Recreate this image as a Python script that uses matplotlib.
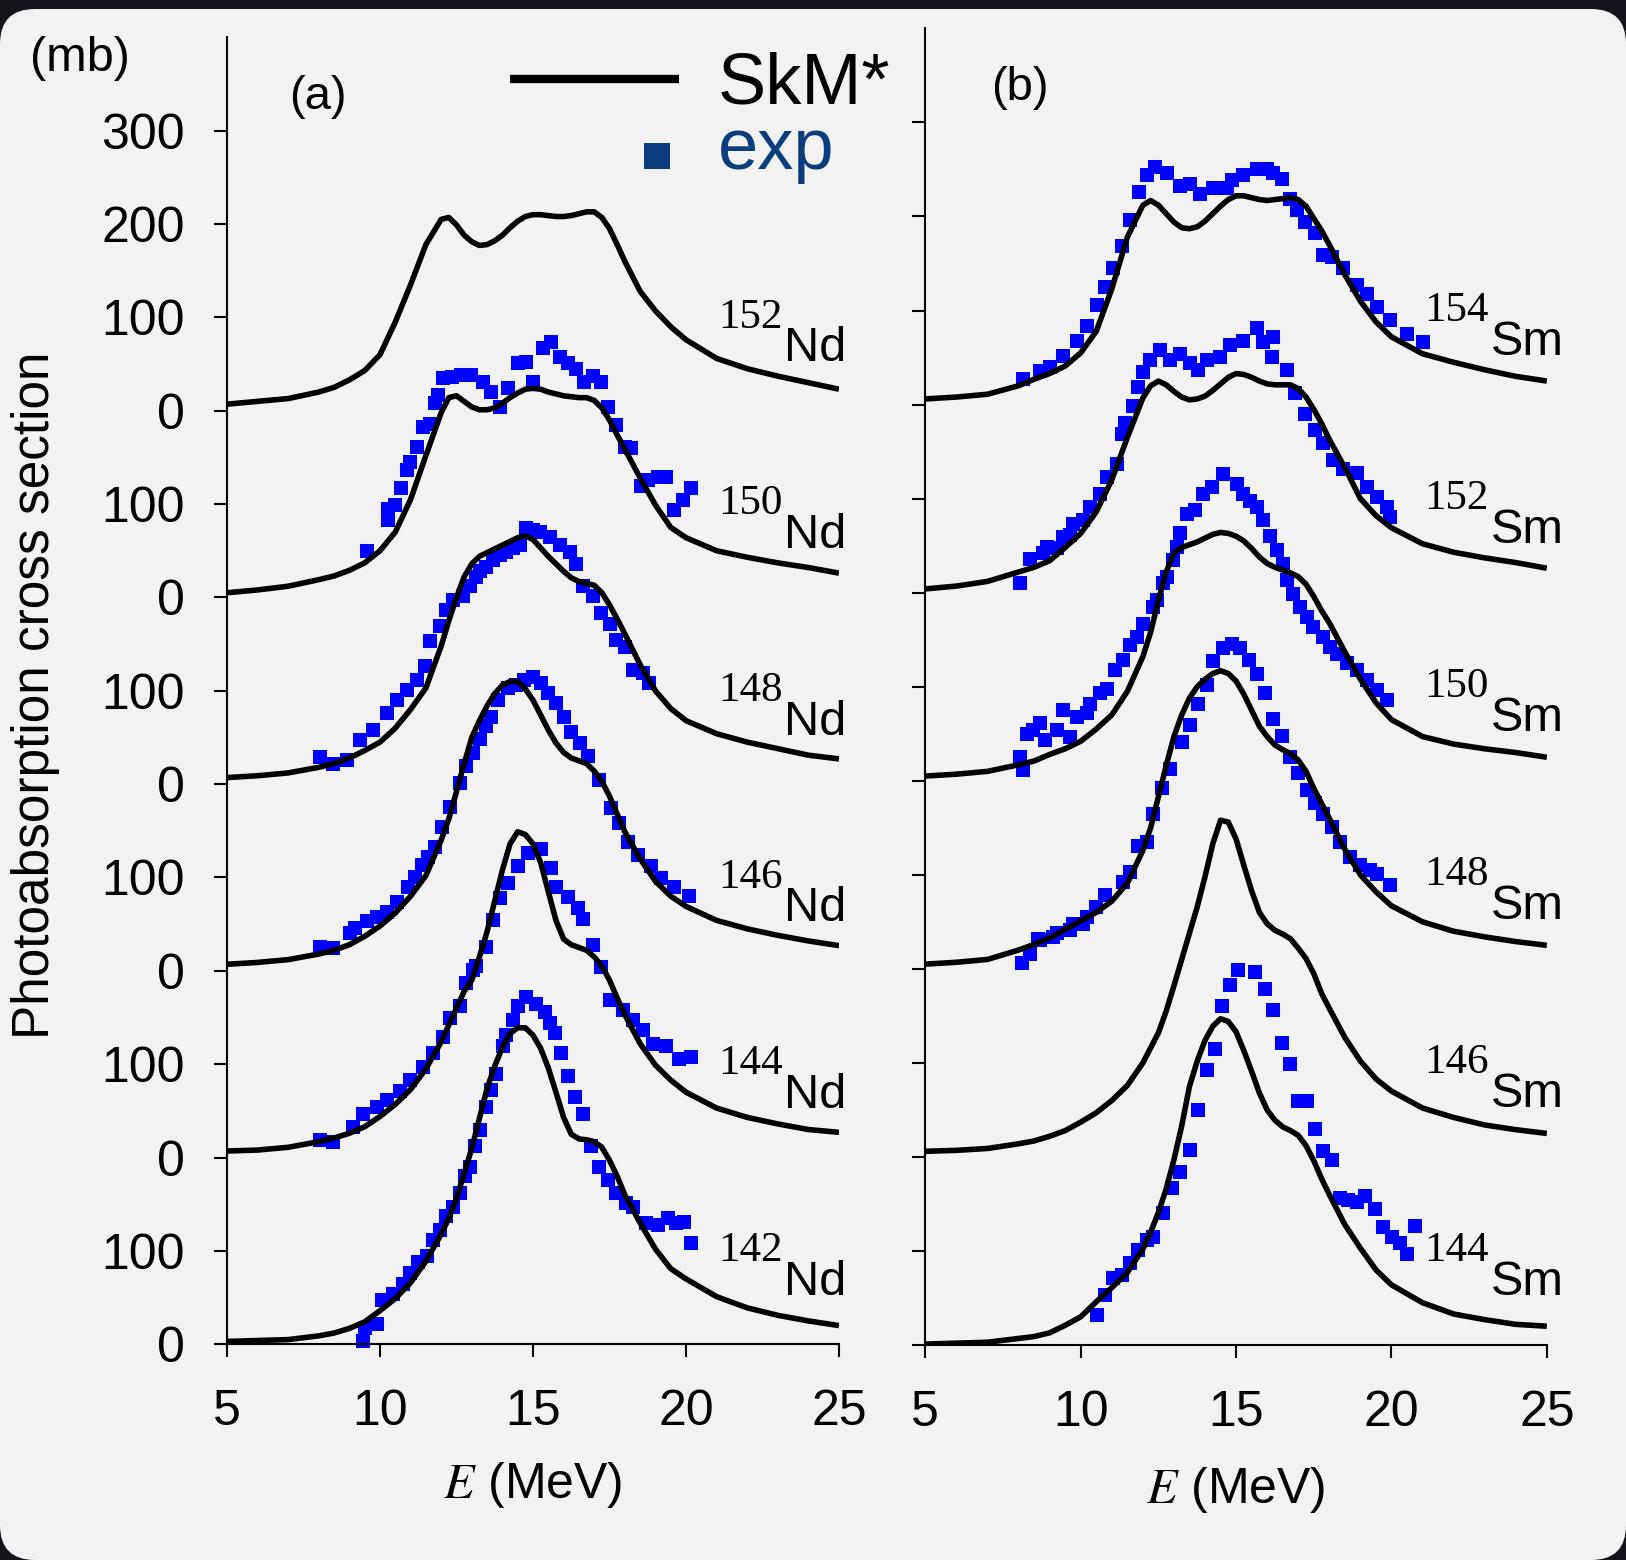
import numpy as np
import matplotlib.pyplot as plt
from matplotlib.patches import FancyBboxPatch

plt.rcParams['font.family'] = ['Liberation Sans', 'DejaVu Sans']
plt.rcParams['mathtext.fontset'] = 'stix'

# energy grid of the SkM* curves (MeV)
e_th = [5, 6, 7, 8, 8.5, 9, 9.5, 10, 10.5, 11, 11.5, 12,
        12.25, 12.5, 12.75, 13, 13.25, 13.5, 13.75, 14, 14.25, 14.5, 14.75, 15,
        15.25, 15.5, 15.75, 16, 16.25, 16.5, 16.75, 17, 17.25, 17.5, 17.75, 18,
        18.5, 19, 19.5, 20, 21, 22, 23, 24, 25]

# SkM* cross sections (mb), each one measured from its own zero line
nd142_th = [3, 4, 5, 9, 12, 17, 24, 36, 49, 66, 89, 118,
            135, 156, 183, 210, 242, 274, 298, 318, 333, 339, 339, 331,
            317, 296, 270, 243, 225, 220, 219, 217, 211, 197, 180, 160,
            130, 102, 81, 70, 51, 39, 31, 25, 20]
nd144_th = [7, 8, 11, 17, 21, 26, 33, 44, 57, 73, 95, 124,
            142, 160, 178, 190, 215, 242, 275, 308, 336, 349, 346, 336,
            316, 285, 254, 234, 228, 225, 222, 215, 205, 190, 171, 153,
            122, 99, 83, 70, 53, 43, 36, 30, 27]
nd146_th = [7, 9, 12, 18, 22, 28, 37, 48, 62, 80, 102, 140,
            163, 192, 222, 250, 268, 284, 297, 306, 310, 310, 302, 290,
            274, 258, 244, 234, 228, 225, 222, 214, 203, 187, 168, 149,
            120, 96, 80, 69, 54, 45, 38, 32, 27]
nd148_th = [7, 9, 12, 18, 22, 28, 36, 45, 60, 80, 103, 148,
            175, 200, 222, 236, 244, 248, 252, 256, 260, 264, 266, 262,
            253, 244, 236, 228, 221, 217, 215, 213, 205, 192, 177, 161,
            128, 100, 81, 68, 54, 45, 38, 31, 27]
nd150_th = [5, 8, 12, 19, 23, 29, 37, 50, 70, 105, 152, 198,
            214, 216, 210, 204, 201, 201, 203, 208, 214, 219, 223, 224,
            223, 220, 218, 216, 215, 214, 214, 211, 203, 190, 174, 159,
            128, 99, 75, 64, 50, 43, 37, 32, 26]
nd152_th = [7, 10, 13, 20, 25, 33, 43, 60, 95, 135, 178, 205,
            207, 199, 188, 181, 177, 178, 182, 188, 196, 203, 208, 210,
            210, 209, 208, 208, 209, 211, 213, 213, 207, 195, 178, 160,
            128, 107, 90, 76, 56, 45, 37, 30, 23]

sm144_th = [1, 2, 3, 7, 9, 13, 21, 30, 46, 61, 77, 102,
            120, 141, 166, 197, 233, 275, 302, 324, 339, 347, 344, 333,
            313, 291, 268, 250, 239, 232, 228, 223, 212, 196, 177, 160,
            128, 103, 80, 64, 45, 33, 27, 22, 20]
sm146_th = [6, 7, 9, 14, 17, 22, 28, 37, 47, 60, 76, 100,
            116, 132, 155, 182, 210, 238, 266, 298, 333, 358, 356, 338,
            310, 283, 260, 248, 241, 237, 232, 222, 211, 195, 174, 158,
            127, 102, 83, 70, 52, 42, 34, 29, 25]
sm148_th = [5, 7, 10, 20, 26, 33, 42, 51, 60, 72, 91, 126,
            150, 183, 216, 247, 270, 288, 300, 308, 314, 317, 314, 306,
            292, 275, 258, 247, 238, 233, 229, 222, 210, 192, 176, 160,
            127, 100, 82, 67, 50, 40, 34, 29, 25]
sm150_th = [5, 7, 10, 17, 21, 28, 34, 42, 55, 70, 95, 132,
            158, 192, 222, 242, 248, 251, 254, 258, 262, 264, 263, 260,
            255, 247, 238, 231, 227, 224, 221, 217, 209, 196, 181, 168,
            137, 108, 83, 65, 47, 39, 34, 30, 25]
sm152_th = [4, 7, 12, 22, 27, 34, 48, 63, 86, 120, 165, 207,
            220, 225, 221, 214, 208, 205, 206, 209, 215, 222, 229, 233,
            232, 229, 225, 222, 221, 221, 221, 217, 208, 195, 180, 163,
            133, 100, 82, 69, 52, 43, 37, 32, 26]
sm154_th = [6, 8, 11, 20, 27, 33, 41, 55, 78, 123, 178, 212,
            217, 212, 203, 194, 188, 187, 189, 195, 203, 211, 218, 222,
            222, 220, 218, 217, 218, 219, 220, 218, 211, 198, 185, 170,
            138, 110, 88, 72, 54, 45, 37, 30, 25]

# experimental points: energy (MeV) and cross section (mb)
nd142_exp_e = [9.45, 9.51, 9.89, 10.05, 10.43, 10.76, 10.98, 11.25, 11.52, 11.74,
               11.96, 12.17, 12.39, 12.61, 12.77, 12.93, 13.1, 13.26, 13.48, 13.64,
               13.8, 14.02, 14.13, 14.35, 14.51, 14.78, 15.11, 15.38, 15.54, 15.71,
               15.92, 16.14, 16.36, 16.63, 16.9, 17.17, 17.44, 17.72, 18.04, 18.26,
               18.7, 19.07, 19.4, 19.67, 19.95, 20.16]
nd142_exp = [4, 17, 22, 47, 54, 65, 76, 88, 94, 112,
             122, 137, 147, 162, 180, 190, 212, 229, 254, 272,
             290, 319, 331, 347, 362, 372, 365, 356, 344, 333,
             312, 287, 265, 247, 212, 190, 176, 162, 151, 147,
             130, 128, 135, 130, 131, 108]

nd144_exp_e = [8.04, 8.48, 9.13, 9.45, 9.89, 10.22, 10.65, 10.98, 11.41, 11.74,
               12.06, 12.28, 12.61, 12.82, 13.04, 13.15, 13.48, 13.7, 13.91, 14.18,
               14.51, 14.84, 15.27, 15.6, 15.76, 16.14, 16.47, 16.63, 16.96, 17.23,
               17.5, 17.93, 18.26, 18.59, 18.91, 19.35, 19.78, 20.16]
nd144_exp = [19, 17, 33, 47, 54, 62, 71, 83, 97, 112,
             129, 149, 162, 187, 201, 205, 226, 254, 278, 294,
             312, 326, 330, 310, 290, 279, 267, 256, 228, 204,
             169, 158, 147, 137, 122, 119, 106, 108]

nd146_exp_e = [8.04, 8.48, 9.02, 9.18, 9.56, 9.9, 10.22, 10.54, 10.92, 11.15,
               11.36, 11.57, 11.79, 12.01, 12.28, 12.61, 12.82, 13.04, 13.26, 13.48,
               13.64, 13.86, 14.18, 14.46, 14.72, 15.0, 15.27, 15.5, 15.76, 16.0,
               16.25, 16.52, 16.79, 17.17, 17.55, 17.82, 18.09, 18.42, 18.86, 19.18,
               19.62, 20.11]
nd146_exp = [26, 24, 40, 46, 53, 58, 63, 74, 90, 100,
             113, 122, 133, 154, 176, 201, 219, 233, 248, 262,
             272, 290, 303, 306, 311, 315, 308, 298, 287, 272,
             256, 244, 230, 204, 174, 158, 138, 124, 112, 99,
             90, 80]

nd148_exp_e = [8.04, 8.48, 8.91, 9.35, 9.78, 10.22, 10.54, 10.87, 11.2, 11.47,
               11.63, 11.96, 12.17, 12.39, 12.72, 12.93, 13.15, 13.26, 13.48, 13.69,
               13.91, 14.13, 14.35, 14.56, 14.78, 15.0, 15.22, 15.54, 15.87, 16.2,
               16.41, 16.63, 16.96, 17.23, 17.5, 17.72, 17.99, 18.26, 18.59, 18.8]
nd148_exp = [29, 22, 26, 47, 58, 76, 90, 101, 112, 126,
             153, 169, 187, 197, 201, 212, 222, 228, 233, 240,
             245, 249, 253, 256, 274, 272, 270, 265, 256, 249,
             236, 212, 201, 183, 171, 154, 147, 122, 119, 108]

nd150_exp_e = [9.56, 10.27, 10.27, 10.49, 10.7, 10.87, 10.98, 11.2, 11.41, 11.63,
               11.79, 11.9, 12.06, 12.34, 12.66, 12.99, 13.37, 13.64, 13.91, 14.18,
               14.51, 14.78, 15.0, 15.32, 15.6, 15.87, 16.14, 16.41, 16.68, 16.96,
               17.23, 17.44, 17.72, 17.99, 18.2, 18.53, 18.75, 19.07, 19.35, 19.62,
               19.89, 20.16]
nd150_exp = [50, 83, 95, 99, 117, 136, 145, 161, 183, 186,
             208, 217, 235, 236, 238, 238, 231, 220, 204, 224,
             251, 252, 231, 267, 274, 258, 251, 245, 231, 237,
             231, 204, 185, 161, 160, 119, 126, 129, 129, 94,
             104, 117]

sm144_exp_e = [10.51, 10.78, 11.05, 11.32, 11.59, 11.85, 12.12, 12.34, 12.66, 12.93,
               13.2, 13.52, 13.79, 14.05, 14.32, 14.54, 14.81, 15.07, 15.61, 15.93,
               16.2, 16.47, 16.74, 17.0, 17.27, 17.54, 17.81, 18.08, 18.35, 18.61,
               18.88, 19.15, 19.47, 19.74, 20.01, 20.28, 20.49, 20.76]
sm144_exp = [32, 53, 71, 74, 87, 101, 112, 115, 140, 167,
             184, 207, 250, 292, 315, 360, 383, 399, 397, 379,
             356, 321, 299, 260, 260, 230, 206, 197, 156, 154,
             152, 158, 145, 126, 115, 108, 97, 127]

sm148_exp_e = [8.1, 8.37, 8.64, 8.69, 9.12, 9.23, 9.66, 9.76, 10.08, 10.19,
               10.5, 10.78, 11.37, 11.59, 11.85, 12.12, 12.34, 12.61, 12.87, 13.25,
               13.52, 13.79, 14.05, 14.27, 14.59, 14.86, 15.13, 15.4, 15.66, 15.93,
               16.2, 16.47, 16.74, 17.0, 17.27, 17.54, 17.81, 18.08, 18.35, 18.67,
               18.99, 19.31, 19.53, 19.96]
sm148_exp = [6, 16, 32, 31, 34, 38, 41, 48, 48, 55,
             66, 78, 92, 103, 131, 135, 165, 192, 213, 241,
             259, 282, 302, 327, 341, 345, 341, 328, 314, 293,
             266, 248, 225, 208, 190, 176, 165, 151, 135, 119,
             110, 105, 101, 89]

sm150_exp_e = [8.05, 8.15, 8.26, 8.48, 8.69, 8.85, 9.23, 9.44, 9.66, 9.87,
               10.19, 10.3, 10.62, 10.84, 11.1, 11.37, 11.59, 11.8, 12.02, 12.34,
               12.45, 12.66, 12.77, 12.98, 13.09, 13.2, 13.41, 13.68, 13.95, 14.21,
               14.59, 15.02, 15.23, 15.45, 15.66, 15.88, 16.09, 16.31, 16.52, 16.63,
               16.84, 17.06, 17.27, 17.49, 17.81, 18.02, 18.24, 18.56, 18.88, 19.2,
               19.53, 19.85]
sm150_exp = [25, 11, 50, 54, 61, 43, 54, 75, 47, 68,
             72, 82, 93, 98, 118, 128, 144, 153, 167, 185,
             192, 210, 217, 235, 249, 263, 284, 288, 305, 312,
             326, 316, 305, 298, 291, 277, 260, 245, 231, 213,
             199, 185, 174, 164, 153, 142, 135, 125, 118, 107,
             96, 86]

sm152_exp_e = [8.05, 8.37, 8.8, 8.9, 9.23, 9.44, 9.66, 9.76, 10.08, 10.3,
               10.62, 10.84, 11.16, 11.32, 11.43, 11.69, 11.85, 12.02, 12.23, 12.55,
               12.87, 13.2, 13.52, 13.79, 14.05, 14.48, 14.81, 15.23, 15.66, 15.88,
               16.15, 16.2, 16.63, 16.9, 17.22, 17.54, 17.81, 18.13, 18.45, 18.88,
               19.2, 19.53, 19.85, 19.96]
sm152_exp = [10, 36, 42, 49, 47, 59, 61, 73, 77, 91,
             105, 123, 137, 169, 180, 199, 219, 235, 247, 258,
             247, 254, 244, 237, 247, 251, 263, 268, 281, 267,
             251, 272, 237, 212, 190, 173, 159, 141, 132, 127,
             112, 102, 91, 80]

sm154_exp_e = [8.15, 8.69, 9.01, 9.44, 9.87, 10.19, 10.51, 10.78, 11.05, 11.32,
               11.59, 11.88, 12.12, 12.39, 12.77, 13.2, 13.52, 13.84, 14.27, 14.7,
               14.86, 15.23, 15.66, 15.99, 16.2, 16.47, 16.74, 16.95, 17.22, 17.54,
               17.81, 18.08, 18.45, 18.88, 19.2, 19.53, 19.96, 20.49, 21.03]
sm154_exp = [27, 36, 40, 52, 68, 84, 106, 125, 145, 169,
             196, 226, 244, 253, 246, 232, 235, 224, 230, 230,
             239, 244, 250, 250, 246, 240, 219, 207, 194, 182,
             159, 157, 145, 127, 118, 104, 90, 75, 67]

nd_masses = ['142', '144', '146', '148', '150', '152']
sm_masses = ['144', '146', '148', '150', '152', '154']
nd_curves = [nd142_th, nd144_th, nd146_th, nd148_th, nd150_th, nd152_th]
sm_curves = [sm144_th, sm146_th, sm148_th, sm150_th, sm152_th, sm154_th]
nd_points = [(nd142_exp_e, nd142_exp), (nd144_exp_e, nd144_exp), (nd146_exp_e, nd146_exp),
             (nd148_exp_e, nd148_exp), (nd150_exp_e, nd150_exp), None]
sm_points = [(sm144_exp_e, sm144_exp), None, (sm148_exp_e, sm148_exp),
             (sm150_exp_e, sm150_exp), (sm152_exp_e, sm152_exp), (sm154_exp_e, sm154_exp)]

step = 200  # vertical shift between nuclei (mb)
blue = '#0000ff'
navy = '#0b3c7d'


def draw_panel(ax, masses, element, curves, points):
    for i, (mass, curve, pts) in enumerate(zip(masses, curves, points)):
        shift = step * i
        if pts is not None:
            ax.plot(pts[0], np.array(pts[1]) + shift, 's', color=blue, ms=10, mew=0,
                    zorder=2, clip_on=False)
        ax.plot(e_th, np.array(curve) + shift, color='black', lw=4.0, zorder=3,
                solid_capstyle='butt', solid_joinstyle='round')
        ax.text(21.05, shift + 89, mass, family='Liberation Serif', fontsize=31,
                ha='left', va='baseline')
        ax.text(23.2, shift + 53, element, fontsize=35, ha='left', va='baseline')

    ax.set_facecolor('none')
    ax.set_xlim(5, 25)
    ax.set_ylim(0, 1400)
    ax.spines[['top', 'right']].set_visible(False)
    ax.spines[['left', 'bottom']].set_linewidth(1.5)
    ax.set_xticks([5, 10, 15, 20, 25])
    ax.set_yticks(range(0, 1301, 100))
    ax.tick_params(direction='out', length=9.5, width=1.5, labelsize=36)
    ax.tick_params(axis='x', pad=23)
    ax.tick_params(axis='y', pad=21)


fig = plt.figure(figsize=(16.26, 15.6), dpi=100, facecolor='#14141c')
card = FancyBboxPatch((0, 0), 16.26, 15.51, boxstyle='round,pad=0,rounding_size=0.35',
                      transform=fig.dpi_scale_trans, facecolor='#f2f2f2', edgecolor='none',
                      zorder=-10)
fig.patches.append(card)

ax_a = fig.add_axes([0.1396, 0.1383, 0.3764, 0.8378])
ax_b = fig.add_axes([0.5691, 0.1378, 0.3822, 0.8440])

draw_panel(ax_a, nd_masses, 'Nd', nd_curves, nd_points)
draw_panel(ax_b, sm_masses, 'Sm', sm_curves, sm_points)

ax_a.set_yticklabels(['0', '100'] * 6 + ['200', '300'])
ax_b.set_yticklabels([])

# legend
ax_a.plot([14.25, 19.76], [1355, 1355], color='black', lw=6, clip_on=False,
          solid_capstyle='butt')
ax_a.text(21.04, 1329, 'SkM*', fontsize=52, ha='left', va='baseline')
ax_a.plot([19.05], [1273], 's', color=navy, ms=19, mew=0, clip_on=False)
ax_a.text(21.04, 1259, 'exp', fontsize=52, color=navy, ha='left', va='baseline')

fig.text(0.0492, 0.9622, '(mb)', fontsize=35, ha='center', va='center')
fig.text(0.1956, 0.9381, '(a)', fontsize=34, ha='center', va='center')
fig.text(0.6273, 0.9436, '(b)', fontsize=34, ha='center', va='center')
fig.text(0.0221, 0.5545, 'Photoabsorption cross section', fontsize=37, rotation=90,
         ha='center', va='center')
fig.text(0.3278, 0.0481, r'$E$ (MeV)', fontsize=36, ha='center', va='center')
fig.text(0.7601, 0.0449, r'$E$ (MeV)', fontsize=36, ha='center', va='center')

fig.savefig('out.png', dpi=100, facecolor=fig.get_facecolor())
